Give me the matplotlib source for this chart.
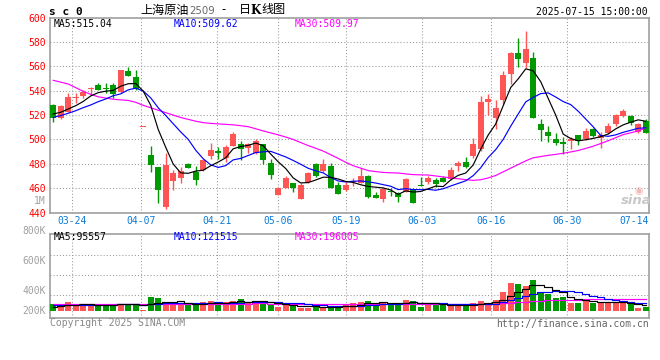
import matplotlib
matplotlib.use('Agg')
import matplotlib.pyplot as plt
import matplotlib.transforms as mtransforms
import numpy as np

W, H = 660, 360

# ---- data (sc0, daily, 2025-03-19 .. 2025-07-15) ----
tick_labels = ['03-24', '04-07', '04-21', '05-06', '05-19', '06-03', '06-16', '06-30', '07-14']
tick_index = [3, 12, 22, 30, 39, 49, 58, 68, 78]

opens = [528.5, 517.6, 522.8, 533.7, 535.4, 541.4, 544.6, 542.2, 544.6, 539.0,
         556.3, 551.5, 510.5, 487.4, 477.8, 444.3, 465.6, 468.3, 480.0, 473.2,
         475.0, 486.6, 490.4, 485.2, 494.7, 496.1, 492.8, 489.3, 496.1, 480.6,
         454.5, 460.2, 464.3, 451.2, 465.4, 479.8, 474.3, 477.9, 462.7, 458.9,
         465.0, 464.1, 470.4, 454.8, 451.3, 457.8, 455.9, 456.7, 459.5, 462.5,
         464.9, 466.8, 468.5, 467.6, 478.0, 481.6, 486.7, 492.2, 530.4, 517.6,
         532.5, 554.0, 571.0, 562.3, 566.8, 512.8, 506.5, 500.7, 498.2, 498.5,
         503.3, 500.1, 508.8, 501.4, 505.0, 512.3, 519.2, 519.2, 506.1, 515.1]
highs = [529.0, 528.0, 538.1, 537.8, 540.5, 542.7, 546.5, 546.0, 546.0, 556.9,
         559.6, 556.9, 510.5, 494.8, 477.8, 488.7, 475.1, 477.3, 481.1, 478.1,
         484.0, 496.9, 494.2, 495.3, 506.1, 498.5, 497.4, 500.7, 496.1, 483.9,
         460.8, 469.7, 464.3, 464.0, 473.5, 481.1, 483.9, 480.6, 464.8, 464.8,
         468.2, 476.4, 471.2, 457.3, 460.0, 460.0, 456.7, 468.7, 460.0, 469.0,
         470.4, 468.5, 470.4, 477.2, 482.6, 485.9, 501.2, 535.3, 537.2, 532.3,
         556.5, 571.5, 583.0, 589.0, 571.7, 516.8, 511.0, 505.7, 502.0, 502.2,
         503.8, 509.6, 509.3, 506.1, 513.7, 521.3, 524.6, 519.7, 513.7, 516.4]
lows = [514.0, 517.0, 522.3, 529.9, 533.7, 536.5, 540.5, 537.8, 534.0, 538.5,
        551.7, 540.5, 510.5, 473.3, 447.8, 443.2, 459.0, 464.0, 476.5, 462.8,
        474.0, 483.9, 483.9, 481.7, 494.7, 483.3, 489.3, 487.9, 479.8, 467.6,
        454.5, 460.2, 457.2, 451.2, 464.3, 468.9, 473.0, 460.0, 455.3, 458.0,
        462.2, 464.1, 452.1, 452.4, 449.1, 454.0, 448.8, 456.7, 447.7, 462.0,
        463.5, 460.8, 464.9, 467.1, 474.5, 476.9, 484.6, 490.8, 520.0, 508.5,
        529.2, 545.2, 559.8, 559.0, 518.0, 499.1, 497.6, 495.7, 488.2, 491.9,
        495.4, 499.5, 502.2, 493.2, 504.1, 511.0, 518.6, 511.8, 505.5, 505.0]
closes = [518.0, 527.2, 535.1, 534.8, 539.2, 542.2, 540.5, 541.4, 537.5, 556.9,
          552.3, 541.5, 510.5, 478.7, 458.2, 479.2, 472.7, 474.3, 477.0, 467.2,
          483.0, 491.2, 489.3, 494.2, 504.5, 492.0, 496.1, 498.8, 483.0, 470.8,
          460.0, 468.4, 460.2, 462.7, 472.4, 470.3, 479.8, 460.0, 455.3, 462.7,
          466.0, 470.4, 453.2, 452.4, 459.5, 457.3, 452.6, 467.6, 447.7, 462.0,
          468.2, 463.5, 465.5, 475.3, 480.5, 477.7, 496.3, 530.9, 533.1, 525.7,
          552.9, 571.2, 566.2, 574.2, 518.0, 508.0, 502.5, 497.3, 496.0, 500.1,
          498.5, 506.9, 502.8, 503.3, 511.0, 519.7, 523.2, 513.7, 512.9, 505.5]

ma5 = [520.9, 522.3, 525.0, 527.7, 531.2, 535.7, 538.4, 539.6, 540.2, 543.7,
       545.7, 545.9, 539.7, 528.0, 508.2, 493.6, 479.9, 472.6, 472.3, 474.1,
       474.8, 478.5, 481.5, 485.0, 492.4, 494.2, 495.2, 497.1, 494.9, 488.1,
       481.7, 476.2, 468.5, 464.4, 464.7, 466.8, 469.1, 469.0, 467.6, 465.6,
       464.8, 462.9, 461.5, 460.9, 460.3, 458.6, 455.0, 457.9, 456.9, 457.4,
       459.6, 461.8, 461.4, 466.9, 470.6, 472.5, 479.1, 492.1, 503.7, 512.7,
       527.7, 542.6, 549.7, 557.9, 556.3, 547.4, 533.7, 520.0, 504.4, 500.8,
       498.9, 499.8, 500.9, 502.3, 504.5, 508.7, 512.0, 514.2, 516.1, 515.0]
ma10 = [518.2, 519.6, 521.5, 523.6, 526.1, 528.3, 531.0, 533.2, 535.9, 537.4,
        540.7, 542.1, 539.7, 534.1, 526.0, 519.7, 512.9, 506.2, 500.1, 491.2,
        484.2, 479.2, 477.1, 478.6, 483.3, 484.5, 486.9, 489.3, 489.9, 490.3,
        488.0, 485.7, 482.8, 479.7, 476.4, 474.3, 472.6, 468.8, 466.0, 465.2,
        465.8, 466.0, 465.3, 464.3, 463.0, 461.7, 458.9, 459.7, 458.9, 458.9,
        459.1, 458.4, 459.6, 461.9, 464.0, 466.1, 470.4, 476.8, 485.3, 491.7,
        500.1, 510.9, 520.9, 530.8, 534.5, 537.6, 538.2, 534.8, 531.1, 528.6,
        523.2, 516.8, 510.4, 503.3, 502.6, 503.8, 505.9, 507.5, 509.2, 509.6]
ma30 = [548.5, 547.0, 545.5, 542.5, 539.5, 537.0, 535.0, 534.0, 533.0, 532.5,
        532.0, 530.5, 528.0, 526.0, 524.0, 522.0, 520.0, 518.0, 516.5, 515.0,
        513.8, 513.2, 512.8, 512.4, 512.0, 511.3, 510.5, 508.8, 507.0, 505.4,
        503.8, 502.0, 500.0, 497.5, 495.0, 492.8, 490.5, 487.5, 484.5, 481.3,
        478.5, 476.5, 474.5, 473.7, 473.0, 472.7, 472.5, 471.8, 471.2, 471.0,
        470.9, 470.1, 469.3, 468.5, 467.8, 467.1, 466.5, 467.0, 468.5, 470.5,
        473.5, 476.5, 479.5, 482.5, 485.0, 486.0, 487.0, 487.8, 488.7, 489.8,
        491.0, 492.7, 494.5, 496.7, 499.0, 501.5, 504.0, 505.5, 507.0, 509.5]

# volume, thousands of lots
vol_k = [114, 114, 148, 91, 91, 91, 91, 114, 114, 114,
         91, 114, 15, 235, 218, 148, 119, 108, 91, 114,
         148, 166, 91, 148, 166, 200, 148, 166, 137, 108,
         62, 96, 96, 50, 50, 67, 62, 62, 62, 108,
         131, 148, 166, 131, 148, 91, 131, 183, 166, 62,
         91, 131, 91, 91, 91, 91, 131, 166, 131, 183,
         310, 466, 449, 409, 513, 310, 275, 206, 235, 137,
         137, 183, 137, 148, 148, 137, 137, 108, 50, 62]
vol_ma5_k = [70, 85, 95, 100, 112, 107, 102, 96, 100, 105,
             105, 109, 90, 114, 135, 146, 147, 166, 137, 116,
             116, 125, 122, 133, 144, 154, 151, 166, 163, 152,
             124, 114, 100, 82, 71, 72, 65, 58, 61, 72,
             85, 102, 123, 137, 145, 137, 133, 137, 144, 127,
             127, 127, 108, 93, 99, 99, 99, 114, 122, 140,
             184, 251, 308, 363, 429, 429, 391, 343, 308, 233,
             198, 180, 166, 148, 151, 151, 141, 136, 116, 96]
vol_ma10_k = [95, 95, 97, 98, 100, 100, 100, 101, 103, 108,
              106, 106, 93, 107, 120, 125, 128, 128, 125, 125,
              131, 136, 144, 135, 130, 135, 138, 144, 148, 148,
              139, 132, 133, 123, 111, 98, 89, 79, 72, 72,
              78, 84, 91, 99, 109, 111, 118, 130, 140, 136,
              132, 130, 123, 119, 113, 113, 113, 111, 108, 120,
              142, 175, 211, 243, 285, 307, 321, 325, 336, 331,
              314, 285, 254, 228, 192, 174, 161, 151, 132, 122]
vol_ma30_k = [108, 108, 109, 109, 110, 110, 110, 111, 111, 111,
              112, 112, 111, 113, 115, 116, 116, 117, 117, 117,
              118, 118, 119, 119, 120, 120, 120, 121, 121, 120,
              119, 118, 117, 116, 115, 114, 113, 112, 112, 112,
              112, 112, 113, 113, 113, 114, 114, 114, 115, 115,
              115, 114, 114, 114, 113, 113, 113, 114, 116, 118,
              122, 132, 142, 152, 162, 168, 173, 178, 182, 185,
              187, 189, 190, 191, 192, 193, 194, 195, 195, 196]

RED = '#ff5555'
GREEN = '#009a00'
GRID = '#999999'
FRAME = '#a0a0a0'
MONO = 'DejaVu Sans Mono'
CJK = ['Noto Sans CJK SC', 'DejaVu Sans']

XMIN, XMAX = -0.43, 79.48


def fx(x):
    return x / W


def fy(y):
    return 1 - y / H


def grid_x(i):
    # sina's date grid runs on a slightly wider step than the candles
    return -0.493 + 1.0141 * i


fig = plt.figure(figsize=(W / 100, H / 100), dpi=100)
fig.patch.set_facecolor('white')

ax = fig.add_axes([fx(50), fy(213.3), (649.3 - 50) / W, (213.3 - 17.5) / H])
axv = fig.add_axes([fx(50), fy(318), (649.3 - 50) / W, (318 - 234) / H])

x = np.arange(len(closes))
o = np.array(opens)
c = np.array(closes)
col = np.where(c >= o, RED, GREEN)

# ---- price panel ----
ax.vlines(x, lows, highs, colors=col, lw=1.0, zorder=2)
body_lo = np.minimum(o, c)
body_h = np.maximum(np.abs(c - o), 0.8)
ax.bar(x, body_h, bottom=body_lo, width=0.76, color=col, linewidth=0, zorder=3)
ax.plot(x, ma30, color='#ff00ff', lw=0.85, zorder=4)
ax.plot(x, ma10, color='#0000ff', lw=0.85, zorder=4)
ax.plot(x, ma5, color='black', lw=0.85, zorder=5)

ax.set_xlim(XMIN, XMAX)
ax.set_ylim(439.5, 600)
ax.set_yticks(np.arange(440, 601, 20))
ax.set_yticklabels([str(v) for v in range(440, 601, 20)])
ax.tick_params(axis='y', length=0, pad=3, labelcolor='#ff0000', labelsize=7)
for lab in ax.get_yticklabels():
    lab.set_family(MONO)
ax.set_xticks([])
for v in range(460, 600, 20):
    ax.axhline(v, color=GRID, lw=0.75, ls=(0, (1, 2)), zorder=1)
for i in tick_index[:-1]:
    ax.axvline(grid_x(i), color=GRID, lw=0.75, ls=(0, (1, 2)), zorder=1)

# ---- volume panel ----
axv.bar(x, vol_k, width=0.8, color=col, linewidth=0, zorder=3)
axv.plot(x, vol_ma30_k, color='#ff00ff', lw=0.85, drawstyle='steps-mid', zorder=4)
axv.plot(x, vol_ma10_k, color='#0000ff', lw=0.85, drawstyle='steps-mid', zorder=4)
axv.plot(x, vol_ma5_k, color='black', lw=0.85, drawstyle='steps-mid', zorder=5)
axv.set_xlim(XMIN, XMAX)
axv.set_ylim(-122, 1283)
axv.set_xticks([])
axv.set_yticks([])
for v in (263, 597, 931):
    axv.axhline(v, color=GRID, lw=0.75, ls=(0, (1, 2)), zorder=1)
for i in tick_index[:-1]:
    axv.axvline(grid_x(i), color=GRID, lw=0.75, ls=(0, (1, 2)), zorder=1)

for a in (ax, axv):
    for s in a.spines.values():
        s.set_color(FRAME)
        s.set_linewidth(1.2)

# ---- date labels ----
trans = mtransforms.blended_transform_factory(ax.transData, fig.transFigure)
for lab, i in zip(tick_labels[:-1], tick_index[:-1]):
    fig.text(grid_x(i), fy(221.5), lab, transform=trans, ha='center', va='center',
             fontsize=7, family=MONO, color='#0c7bd8')
fig.text(fx(649), fy(221.5), tick_labels[-1], ha='right', va='center',
         fontsize=7, family=MONO, color='#0c7bd8')

# ---- header ----
fig.text(fx(49), fy(12), 's c 0', ha='left', va='center', fontsize=8,
         family=MONO, fontweight='bold', color='black')
fig.text(fx(140.5), fy(10), '上海原油', ha='left', va='center', fontsize=8.7,
         family=CJK, color='black')
fig.text(fx(189), fy(10.5), '2509', ha='left', va='center', fontsize=7.3,
         family='DejaVu Sans', color='#666666')
fig.text(fx(221), fy(10), '-', ha='left', va='center', fontsize=8.5,
         family=CJK, color='black')
fig.text(fx(239), fy(10), '日', ha='left', va='center', fontsize=8.7,
         family=CJK, color='black')
fig.text(fx(250.5), fy(10), 'K', ha='left', va='center', fontsize=8.5,
         family='DejaVu Serif', fontweight='bold', color='black')
fig.text(fx(261), fy(10), '线图', ha='left', va='center', fontsize=8.7,
         family=CJK, color='black')
fig.text(fx(648), fy(12), '2025-07-15 15:00:00', ha='right', va='center',
         fontsize=7, family=MONO, color='black')

# ---- MA read-outs ----
for txt, xp, cc in (('MA5:515.04', 54, 'black'), ('MA10:509.62', 174, '#0000ff'),
                    ('MA30:509.97', 295, '#ff00ff')):
    fig.text(fx(xp), fy(24), txt, ha='left', va='center', fontsize=7, family=MONO, color=cc)
for txt, xp, cc in (('MA5:95557', 54, 'black'), ('MA10:121515', 174, '#0000ff'),
                    ('MA30:196005', 295, '#ff00ff')):
    fig.text(fx(xp), fy(237.5), txt, ha='left', va='center', fontsize=7, family=MONO, color=cc)

# ---- volume axis labels (sina places them loosely) ----
for txt, yp in (('1M', 200.5), ('800K', 231), ('600K', 260.7), ('400K', 290.5), ('200K', 310.7)):
    fig.text(fx(46), fy(yp), txt, ha='right', va='center', fontsize=7, family=MONO,
             color='#a0a0a0')

# ---- footer + watermark ----
fig.text(fx(50), fy(323.5), 'Copyright 2025 SINA.COM', ha='left', va='center',
         fontsize=7, family=MONO, color='#888888')
fig.text(fx(649), fy(324), 'http://finance.sina.com.cn', ha='right', va='center',
         fontsize=7, family=MONO, color='#666666')
fig.text(fx(636), fy(201), 'sina', ha='center', va='center', fontsize=9.5,
         fontweight='bold', style='italic', color='#c8c8c8')
fig.text(fx(639), fy(191), '◉', ha='center', va='center', fontsize=7,
         color='#f0b8b8')

fig.savefig('out.png', dpi=100)
